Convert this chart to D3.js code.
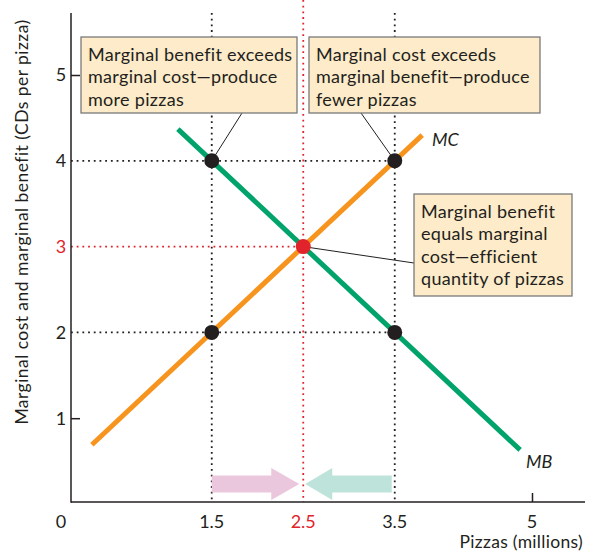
<!DOCTYPE html>
<html>
<head>
<meta charset="utf-8">
<script src="https://cdn.jsdelivr.net/npm/d3@7"></script>
<style>
  html, body { margin: 0; padding: 0; background: #fff; }
  svg { display: block; }
  text { font-family: "Lato", "Noto Sans", sans-serif; fill: #231f20; }
</style>
</head>
<body>
<svg id="chart" width="598" height="553"></svg>
<script>
// ---- data ----
const xTicks = [0, 1.5, 2.5, 3.5, 5];
const yTicks = [1, 2, 3, 4, 5];
const mcX = [0.19, 3.8];          // MC: cost = q + 0.5
const mcY = [0.69, 4.3];
const mbX = [1.13, 4.87];         // MB: benefit = 5.5 - q
const mbY = [4.37, 0.63];
const pointsQ = [1.5, 3.5, 1.5, 3.5];
const pointsV = [4, 4, 2, 2];
const eqQ = 2.5, eqV = 3;
const box1 = ["Marginal benefit exceeds", "marginal cost\u2014produce", "more pizzas"];
const box2 = ["Marginal cost exceeds", "marginal benefit\u2014produce", "fewer pizzas"];
const box3 = ["Marginal benefit", "equals marginal", "cost\u2014efficient", "quantity of pizzas"];

const svg = d3.select("#chart");
const x = d3.scaleLinear().domain([0, 5]).range([74.5, 532]);
const y = d3.scaleLinear().domain([0, 5]).range([504, 75]);
const axisX = 71, axisY = 502;

const black = "#231f20", red = "#e1242b", orange = "#f7941d", green = "#00a46b";

// dotted guide lines
const dotted = svg.append("g");
[1.5, 3.5].forEach(q => {
  dotted.append("line").attr("x1", x(q)).attr("x2", x(q)).attr("y1", 13).attr("y2", axisY)
    .attr("stroke", black).attr("stroke-width", 1.8).attr("stroke-dasharray", "1.8,3.9");
});
dotted.append("line").attr("x1", x(eqQ)).attr("x2", x(eqQ)).attr("y1", 0).attr("y2", axisY)
  .attr("stroke", red).attr("stroke-width", 1.8).attr("stroke-dasharray", "1.8,3.9");
[4, 2].forEach(v => {
  dotted.append("line").attr("x1", axisX).attr("x2", x(3.5)).attr("y1", y(v)).attr("y2", y(v))
    .attr("stroke", black).attr("stroke-width", 1.8).attr("stroke-dasharray", "1.8,3.9");
});
dotted.append("line").attr("x1", axisX).attr("x2", x(eqQ)).attr("y1", y(eqV)).attr("y2", y(eqV))
  .attr("stroke", red).attr("stroke-width", 1.8).attr("stroke-dasharray", "1.8,3.9");

// axes
const yAxis = d3.axisRight(y).tickValues([1, 5]).tickSize(9).tickFormat("");
svg.append("g").attr("transform", `translate(${axisX},0)`).call(yAxis)
  .call(g => g.select(".domain").remove())
  .call(g => g.selectAll("line").attr("stroke", black).attr("stroke-width", 1.5));
svg.append("line").attr("x1", axisX).attr("x2", axisX).attr("y1", 13).attr("y2", axisY + 0.75)
  .attr("stroke", black).attr("stroke-width", 1.5);
svg.append("line").attr("x1", axisX).attr("x2", 585).attr("y1", axisY).attr("y2", axisY)
  .attr("stroke", black).attr("stroke-width", 1.5);
const xAxis = d3.axisTop(x).tickValues([5]).tickSize(9).tickFormat("");
svg.append("g").attr("transform", `translate(0,${axisY})`).call(xAxis)
  .call(g => g.select(".domain").remove())
  .call(g => g.selectAll("line").attr("stroke", black).attr("stroke-width", 1.5));

// tick labels
svg.selectAll(".ylab").data(yTicks).join("text")
  .attr("x", 61).attr("y", d => y(d)).attr("dy", "0.36em").attr("text-anchor", "middle")
  .attr("font-size", 18).style("fill", d => d === eqV ? red : black).text(d => d);
svg.selectAll(".xlab").data(xTicks).join("text")
  .attr("x", d => d === 0 ? 61 : x(d)).attr("y", 528).attr("text-anchor", "middle")
  .attr("font-size", 18).style("fill", d => d === eqQ ? red : black).text(d => d);

// axis titles
svg.append("text").attr("x", 583).attr("y", 548).attr("text-anchor", "end")
  .attr("font-size", 17.5).attr("letter-spacing", 0.3).text("Pizzas (millions)");
svg.append("text").attr("transform", "translate(28,222) rotate(-90)").attr("text-anchor", "middle")
  .attr("font-size", 17.5).attr("letter-spacing", 0.45).text("Marginal cost and marginal benefit (CDs per pizza)");

// arrows
function arrowPath(x0, x1, yc, headLen, bodyH, headH) {
  const dir = x1 > x0 ? 1 : -1;
  const hb = x1 - dir * headLen;
  return `M${x0},${yc - bodyH / 2}L${hb},${yc - bodyH / 2}L${hb},${yc - headH / 2}L${x1},${yc}` +
    `L${hb},${yc + headH / 2}L${hb},${yc + bodyH / 2}L${x0},${yc + bodyH / 2}Z`;
}
svg.append("path").attr("d", arrowPath(x(1.5), x(2.5) - 4, 484, 28, 17, 32)).attr("fill", "#ebc7de");
svg.append("path").attr("d", arrowPath(x(3.5) - 3, x(2.5) + 2, 484, 27, 17, 32)).attr("fill", "#bde3da");

// leader lines
const leader = svg.append("g").attr("stroke", black).attr("stroke-width", 1);
leader.append("line").attr("x1", 242).attr("y1", 113).attr("x2", x(1.5)).attr("y2", y(4));
leader.append("line").attr("x1", 361).attr("y1", 113).attr("x2", x(3.5)).attr("y2", y(4));
leader.append("line").attr("x1", x(eqQ)).attr("y1", y(eqV)).attr("x2", 414).attr("y2", 263);

// curves
const line = d3.line().x(d => x(d[0])).y(d => y(d[1]));
svg.append("path").attr("d", line(mcX.map((q, i) => [q, mcY[i]])))
  .attr("stroke", orange).attr("stroke-width", 5).attr("fill", "none");
svg.append("path").attr("d", line(mbX.map((q, i) => [q, mbY[i]])))
  .attr("stroke", green).attr("stroke-width", 5).attr("fill", "none");

// points
svg.selectAll(".pt").data(pointsQ).join("circle")
  .attr("cx", d => x(d)).attr("cy", (d, i) => y(pointsV[i])).attr("r", 7.5).attr("fill", black);
svg.append("circle").attr("cx", x(eqQ)).attr("cy", y(eqV)).attr("r", 7.5).attr("fill", red);

// curve labels
svg.append("text").attr("x", 432).attr("y", 146).attr("font-size", 18).attr("font-style", "italic").text("MC");
svg.append("text").attr("x", 526).attr("y", 468).attr("font-size", 18).attr("font-style", "italic").text("MB");

// boxes
function box(x0, y0, w, h, lines, ty0) {
  svg.append("rect").attr("x", x0).attr("y", y0).attr("width", w).attr("height", h)
    .attr("fill", "#fdebc9").attr("stroke", "#7a7a7a").attr("stroke-width", 1.3);
  svg.append("g").selectAll("text").data(lines).join("text")
    .attr("x", x0 + 7).attr("y", (d, i) => ty0 + i * 22.3)
    .attr("font-size", 18).attr("letter-spacing", 0.3).text(d => d);
}
box(81, 37, 216, 76, box1, 61);
box(309, 37, 231, 76, box2, 61);
box(414, 194, 158, 102, box3, 218);
</script>
</body>
</html>
